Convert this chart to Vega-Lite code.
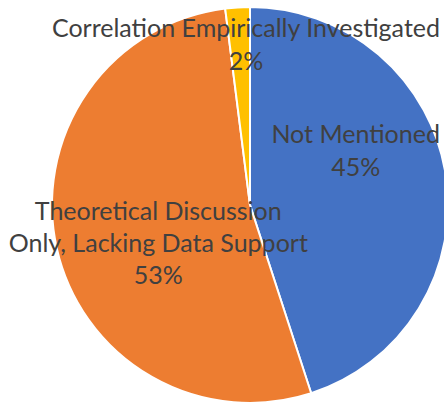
{
  "$schema": "https://vega.github.io/schema/vega-lite/v6.json",
  "width": 500,
  "height": 410,
  "padding": 0,
  "autosize": {"type": "none"},
  "background": "white",
  "view": {"stroke": null},
  "data": {
    "values": [
      {"category": "Not Mentioned", "value": 45, "order": 1, "label": "Not Mentioned\n45%"},
      {"category": "Theoretical Discussion Only, Lacking Data Support", "value": 53, "order": 2, "label": "Theoretical Discussion\nOnly, Lacking Data Support\n53%"},
      {"category": "Correlation Empirically Investigated", "value": 2, "order": 3, "label": "Correlation Empirically Investigated\n2%"}
    ]
  },
  "encoding": {
    "theta": {"field": "value", "type": "quantitative", "stack": true},
    "order": {"field": "order", "type": "quantitative"}
  },
  "layer": [
    {
      "mark": {"type": "arc", "outerRadius": 198, "stroke": "white", "strokeWidth": 2},
      "encoding": {
        "color": {
          "field": "category", "type": "nominal", "legend": null,
          "scale": {
            "domain": ["Not Mentioned", "Theoretical Discussion Only, Lacking Data Support", "Correlation Empirically Investigated"],
            "range": ["#4472C4", "#ED7D31", "#FFC000"]
          }
        }
      }
    },
    {
      "mark": {"type": "text", "radius": 110, "dx": -3, "dy": -53, "font": "Lato", "fontSize": 25, "color": "#404040", "lineBreak": "\n", "lineHeight": 33, "align": "center", "baseline": "middle"},
      "encoding": {"text": {"condition": {"test": "datum.order == 1", "field": "label"}, "value": ""}}
    },
    {
      "mark": {"type": "text", "radius": 95, "dx": 1, "dy": -14, "font": "Lato", "fontSize": 25, "color": "#404040", "lineBreak": "\n", "lineHeight": 32, "align": "center", "baseline": "middle"},
      "encoding": {"text": {"condition": {"test": "datum.order == 2", "field": "label"}, "value": ""}}
    },
    {
      "mark": {"type": "text", "radius": 160, "dx": 6, "dy": -16, "font": "Lato", "fontSize": 25, "color": "#404040", "lineBreak": "\n", "lineHeight": 33, "align": "center", "baseline": "middle"},
      "encoding": {"text": {"condition": {"test": "datum.order == 3", "field": "label"}, "value": ""}}
    }
  ]
}
